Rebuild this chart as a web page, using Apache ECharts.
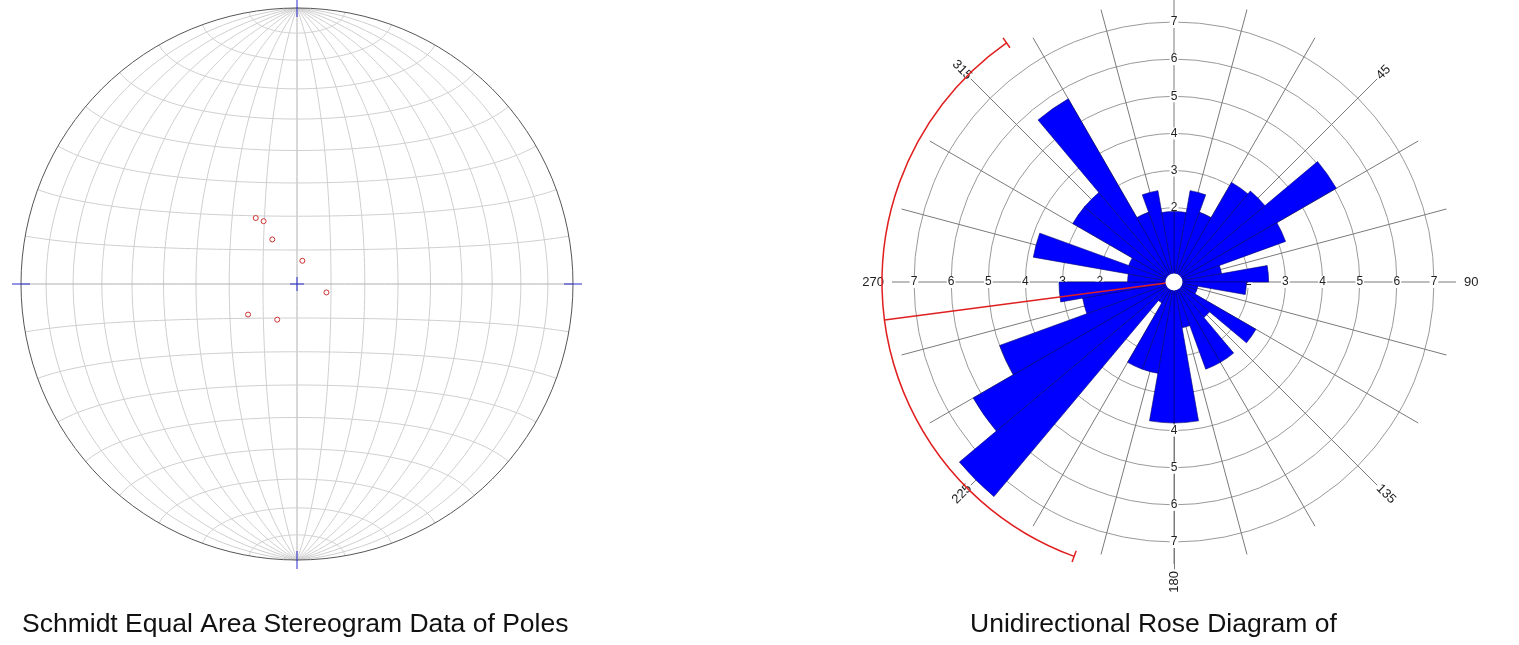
<!DOCTYPE html>
<html>
<head>
<meta charset="utf-8">
<title>Stereogram and rose diagram</title>
<script src="https://cdn.jsdelivr.net/npm/echarts@6/dist/echarts.min.js"></script>
<style>
    html, body { margin: 0; padding: 0; background: #fff; }
    #chart { width: 1519px; height: 645px; }
</style>
</head>
<body>
<div id="chart"></div>
<script>
// poles on the stereonet, degrees
const poleTrend = [328, 332, 331, 13, 106, 238, 209]
const polePlunge = [67, 69, 75, 83, 81, 73, 78]

// rose diagram, 10 degree bins (azimuth of bin start)
const binStart = [0, 10, 20, 30, 40, 50, 60, 70, 80, 90, 100, 110,
    120, 130, 140, 150, 160, 170, 180, 190, 200, 210, 220, 230,
    240, 250, 260, 270, 280, 290, 300, 310, 320, 330, 340, 350]
const binLength = [1.9, 2.5, 2.0, 3.1, 3.2, 5.05, 3.2, 1.3, 2.55, 1.95, 0.65, 0.65,
    2.55, 1.25, 2.5, 2.5, 1.25, 3.8, 3.8, 2.5, 2.5, 0.65, 7.55, 6.25,
    5.0, 2.5, 3.1, 1.25, 3.85, 1.3, 3.15, 3.15, 5.7, 2.0, 2.5, 1.9]

// mean direction and its spread arc
const meanDir = 262.5
const arcFrom = 200
const arcTo = 325
const arcRadius = 7.87

// net / axis steps
const netAngles = [-80, -70, -60, -50, -40, -30, -20, -10, 0, 10, 20, 30, 40, 50, 60, 70, 80]
const ringMax = 7
const spokeMax = 7.6
const spokeStep = 15
// azimuth labels written along their spoke
const dirLabels = [45, 135, 180, 225, 315]

const font = 'Liberation Sans, Arial, sans-serif'
const rose = { center: [1174, 282], outer: 282, rings: 260, labels: 287 }

// equal area (Lambert) projection, unit primitive circle
function lambert (lat, lon) {
    const p = lat * Math.PI / 180
    const l = lon * Math.PI / 180
    const k = Math.sqrt(2 / (1 + Math.cos(p) * Math.cos(l)))
    return [k * Math.cos(p) * Math.sin(l) / Math.SQRT2, k * Math.sin(p) / Math.SQRT2]
}
// lower hemisphere pole -> net coords
function poleXY (trend, plunge) {
    const r = Math.SQRT2 * Math.sin((90 - plunge) / 2 * Math.PI / 180)
    const t = trend * Math.PI / 180
    return [r * Math.sin(t), r * Math.cos(t)]
}

// polars: 0 bars, 1 spokes, 2 rings, 3-6 ring labels, 7+ azimuth labels
const polars = [
    { center: rose.center, radius: rose.outer },
    { center: rose.center, radius: rose.outer },
    { center: rose.center, radius: rose.rings }
]
const ringLabelDirs = [90, 0, 270, 180]
ringLabelDirs.forEach(() => polars.push({ center: rose.center, radius: rose.rings }))
dirLabels.forEach(() => polars.push({ center: rose.center, radius: rose.labels }))

const angleAxes = [
    { polarIndex: 0, type: 'category', data: binStart.map(String), startAngle: 90, clockwise: true, show: false },
    {
        polarIndex: 1,
        type: 'value',
        min: 0,
        max: 360,
        interval: spokeStep,
        startAngle: 90,
        clockwise: true,
        axisLine: { show: false },
        axisTick: { show: false },
        splitLine: { show: true, lineStyle: { color: '#7a7a7a', width: 1 } },
        axisLabel: {
            margin: 8,
            fontSize: 13,
            fontFamily: font,
            color: '#222',
            formatter: v => (v === 90 || v === 270) ? String(v) : ''
        }
    },
    { polarIndex: 2, type: 'value', min: 0, max: 360, startAngle: 90, show: false }
]
ringLabelDirs.forEach((a, i) => angleAxes.push({
    polarIndex: 3 + i, type: 'value', min: 0, max: 360, startAngle: a, clockwise: true, show: false
}))
dirLabels.forEach((b, i) => angleAxes.push({
    polarIndex: 7 + i, type: 'value', min: 0, max: 360, startAngle: 90 - b, clockwise: true, show: false
}))

const radiusAxes = [
    { polarIndex: 0, min: 0, max: spokeMax, show: false },
    { polarIndex: 1, min: 0, max: spokeMax, show: false },
    {
        polarIndex: 2,
        min: 0,
        max: ringMax,
        interval: 1,
        axisLine: { show: false },
        axisTick: { show: false },
        axisLabel: { show: false },
        splitLine: { show: true, lineStyle: { color: '#999', width: 1 } }
    }
]
ringLabelDirs.forEach((a, i) => radiusAxes.push({
    polarIndex: 3 + i,
    min: 0,
    max: ringMax,
    interval: 1,
    z: 1,
    axisLine: { show: false },
    axisTick: { show: false },
    splitLine: { show: false },
    axisLabel: {
        margin: 0,
        align: 'center',
        verticalAlign: 'middle',
        fontSize: 12,
        fontFamily: font,
        color: '#222',
        backgroundColor: '#fff',
        padding: [0, 1],
        formatter: v => v >= 1 ? String(v) : ''
    }
}))
// text reads outward on the east half, inward on the west half
dirLabels.forEach((b, i) => {
    const east = b > 0 && b < 180
    radiusAxes.push({
        polarIndex: 7 + i,
        min: 0,
        max: 1,
        interval: 1,
        axisLine: { show: true, lineStyle: { color: '#7a7a7a', width: 1 } },
        axisTick: { show: false },
        splitLine: { show: false },
        axisLabel: {
            margin: 0,
            rotate: east ? 90 - b : 270 - b,
            align: east ? 'left' : 'right',
            verticalAlign: 'middle',
            padding: [0, 2],
            fontSize: 13,
            fontFamily: font,
            color: '#222',
            formatter: v => v === 1 ? String(b) : ''
        }
    })
})

const netData = netAngles.map(a => [a, 0]).concat(netAngles.map(a => [a, 1]))

let chart = echarts.init(document.getElementById('chart'))
chart.setOption({
    animation: false,
    title: [
        {
            text: 'Schmidt Equal Area Stereogram Data of Poles',
            left: 22,
            top: 611,
            padding: 0,
            textStyle: { fontSize: 26.5, fontWeight: 'normal', color: '#111', fontFamily: font }
        },
        {
            text: 'Unidirectional Rose Diagram of',
            left: 970,
            top: 611,
            padding: 0,
            textStyle: { fontSize: 26.5, fontWeight: 'normal', color: '#111', fontFamily: font }
        }
    ],
    grid: { left: 21, top: 8, width: 552, height: 552 },
    xAxis: { type: 'value', min: -1, max: 1, show: false },
    yAxis: { type: 'value', min: -1, max: 1, show: false },
    polar: polars,
    angleAxis: angleAxes,
    radiusAxis: radiusAxes,
    series: [
        {
            // meridians (kind 0) and small circles (kind 1)
            type: 'custom',
            coordinateSystem: 'cartesian2d',
            clip: false,
            silent: true,
            data: netData,
            renderItem: function (params, api) {
                const a = api.value(0)
                const kind = api.value(1)
                const pts = []
                for (let t = -90; t <= 90; t += 2) {
                    pts.push(api.coord(kind === 0 ? lambert(t, a) : lambert(a, t)))
                }
                return {
                    type: 'polyline',
                    shape: { points: pts },
                    style: { stroke: a === 0 ? '#b0b0b0' : '#cfcfcf', lineWidth: 1, fill: null }
                }
            }
        },
        {
            // primitive circle and blue cross marks
            type: 'custom',
            coordinateSystem: 'cartesian2d',
            clip: false,
            silent: true,
            data: [[0, 0]],
            renderItem: function (params, api) {
                const c = api.coord([0, 0])
                const r = api.coord([1, 0])[0] - c[0]
                const blue = { stroke: '#2b2bd0', lineWidth: 1 }
                const seg = (x1, y1, x2, y2) => ({ type: 'line', shape: { x1, y1, x2, y2 }, style: blue })
                return {
                    type: 'group',
                    children: [
                        { type: 'circle', shape: { cx: c[0], cy: c[1], r }, style: { stroke: '#555', lineWidth: 1, fill: null } },
                        seg(c[0] - 7, c[1], c[0] + 7, c[1]),
                        seg(c[0], c[1] - 7, c[0], c[1] + 7),
                        seg(c[0] - r - 9, c[1], c[0] - r + 9, c[1]),
                        seg(c[0] + r - 9, c[1], c[0] + r + 9, c[1]),
                        seg(c[0], c[1] - r - 9, c[0], c[1] - r + 9),
                        seg(c[0], c[1] + r - 9, c[0], c[1] + r + 9)
                    ]
                }
            }
        },
        {
            type: 'scatter',
            symbol: 'circle',
            symbolSize: 5,
            silent: true,
            itemStyle: { color: '#fff', borderColor: '#cc3030', borderWidth: 1, opacity: 1 },
            data: poleTrend.map((t, i) => poleXY(t, polePlunge[i]))
        },
        {
            type: 'bar',
            coordinateSystem: 'polar',
            polarIndex: 0,
            barCategoryGap: '0%',
            silent: true,
            itemStyle: { color: '#0000ff', borderColor: '#00006e', borderWidth: 0.6 },
            data: binLength
        },
        {
            // mean direction line and spread arc
            type: 'custom',
            coordinateSystem: 'polar',
            polarIndex: 1,
            clip: false,
            silent: true,
            z: 5,
            data: [[arcRadius, meanDir, arcFrom, arcTo]],
            renderItem: function (params, api) {
                const cx = params.coordSys.cx
                const cy = params.coordSys.cy
                const tip = api.coord([api.value(0), api.value(1)])
                const rPx = Math.hypot(tip[0] - cx, tip[1] - cy)
                const red = { stroke: '#e02020', lineWidth: 1.5, fill: null }
                const toRad = b => (b - 90) * Math.PI / 180
                const cap = b => {
                    const t = toRad(b)
                    return {
                        type: 'line',
                        shape: {
                            x1: cx + (rPx - 6) * Math.cos(t), y1: cy + (rPx - 6) * Math.sin(t),
                            x2: cx + (rPx + 6) * Math.cos(t), y2: cy + (rPx + 6) * Math.sin(t)
                        },
                        style: red
                    }
                }
                return {
                    type: 'group',
                    children: [
                        { type: 'line', shape: { x1: cx, y1: cy, x2: tip[0], y2: tip[1] }, style: red },
                        {
                            type: 'arc',
                            shape: { cx, cy, r: rPx, startAngle: toRad(api.value(2)), endAngle: toRad(api.value(3)), clockwise: true },
                            style: red
                        },
                        cap(api.value(2)),
                        cap(api.value(3))
                    ]
                }
            }
        },
        {
            // white hole in the middle of the rose
            type: 'scatter',
            coordinateSystem: 'polar',
            polarIndex: 1,
            symbolSize: 17,
            silent: true,
            z: 10,
            itemStyle: { color: '#fff', opacity: 1 },
            data: [[0, 0]]
        }
    ]
})
window.addEventListener('resize', function () {
    chart.resize()
})
</script>
</body>
</html>
